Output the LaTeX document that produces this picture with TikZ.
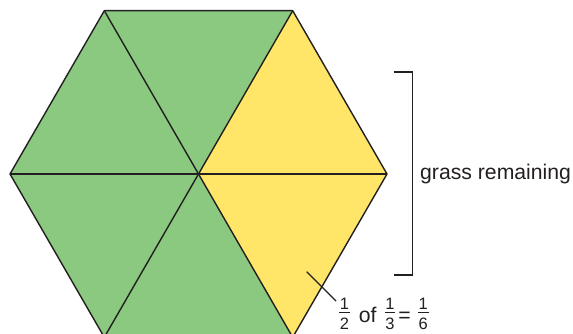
\documentclass[tikz,border=0pt]{standalone}
\usepackage{amsmath}
\usepackage{fontspec}
\setmainfont{Liberation Sans}
\usetikzlibrary{positioning}
\usetikzlibrary{calc}

\definecolor{grassgreen}{RGB}{138,201,127}
\definecolor{grassyellow}{RGB}{255,230,104}
\definecolor{inkline}{RGB}{35,31,32}

\tikzset{
    edge/.style={draw=inkline, line width=1.4pt, line join=round},
    bracket/.style={draw=inkline, line width=1.1pt},
    greenpart/.style={fill=grassgreen},
    yellowpart/.style={fill=grassyellow},
    words/.style={anchor=base west, inner sep=0pt, text=inkline},
}

% small raised fraction with sans digits
\newcommand{\digit}[1]{\hbox to 10.5pt{\hss\fontsize{16.5}{16.5}\selectfont#1\hss}}
\newcommand{\fr}[2]{\raisebox{4.6pt}{$\genfrac{}{}{0.7pt}{1}{\digit{#1}}{\digit{\rule{0pt}{15.5pt}#2}}$}}

\begin{document}
\begin{tikzpicture}[x=1pt, y=-1pt, font=\fontsize{21.2}{25}\selectfont]
    \useasboundingbox (0,0) rectangle (573,334);

    % hexagon corners
    \coordinate (o) at (198.5,174);
    \coordinate (r) at (387,174);
    \coordinate (tr) at (292.7,10.7);
    \coordinate (tl) at (104.3,10.7);
    \coordinate (l) at (10,174);
    \coordinate (bl) at (104.3,337.3);
    \coordinate (br) at (292.7,337.3);

    \fill[greenpart] (o) -- (tr) -- (tl) -- (l) -- (bl) -- (br) -- cycle;
    \fill[yellowpart] (o) -- (br) -- (r) -- (tr) -- cycle;

    \draw[edge] (r) -- (tr) -- (tl) -- (l) -- (bl) -- (br) -- cycle;
    \draw[edge] (r) -- (l);
    \draw[edge] (tr) -- (bl);
    \draw[edge] (tl) -- (br);

    % bracket and labels
    \coordinate (bt) at (412.5,72);
    \coordinate (bb) at (412.5,275);
    \draw[bracket] ($(bt)+(-19,0)$) -- (bt) -- (bb) -- ($(bb)+(-19,0)$);
    \node[words] (grass) at (420,179.5) {grass remaining};

    \coordinate (p) at (306.7,271.7);
    \node[words] (part) at (337.8,322.3)
        {\fr{1}{2}\hspace{8pt}of\hspace{7pt}\fr{1}{3}\hspace{2pt}=\hspace{6pt}\fr{1}{6}};
    \draw[bracket] (p) -- ($(part.base west)+(-1.8,-21.3)$);
\end{tikzpicture}
\end{document}
